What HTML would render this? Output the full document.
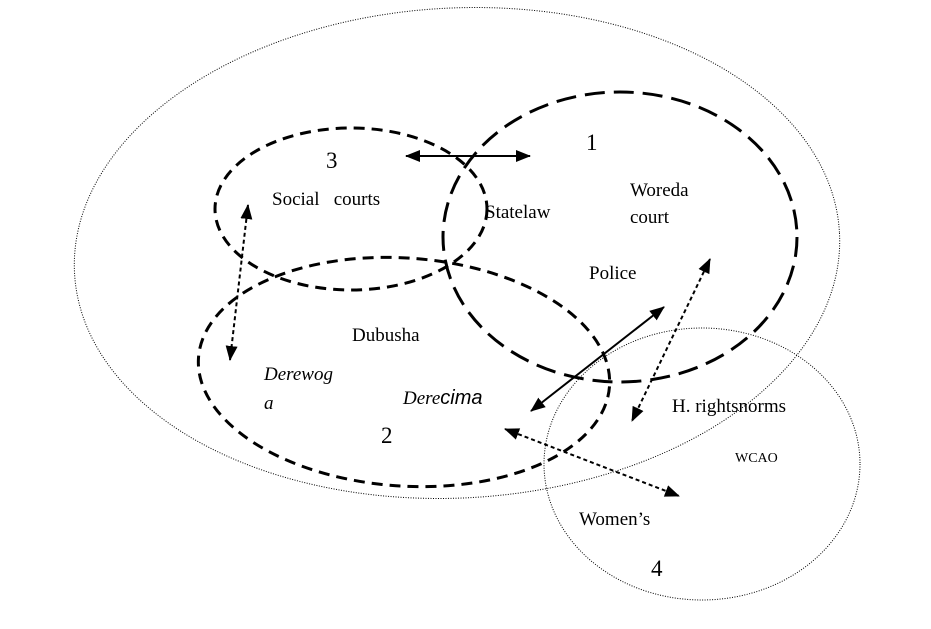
<!DOCTYPE html>
<html><head><meta charset="utf-8"><style>
body{margin:0;background:#fff;width:931px;height:624px;overflow:hidden}
text{font-family:"Liberation Serif",serif;fill:#000}
</style></head><body>
<svg width="931" height="624" viewBox="0 0 931 624" xmlns="http://www.w3.org/2000/svg">
<defs>
<marker id="a" markerWidth="16" markerHeight="14" refX="14" refY="7" orient="auto-start-reverse" markerUnits="userSpaceOnUse"><path d="M0,1 L15,7 L0,13 z" fill="#000"/></marker>
</defs>
<ellipse cx="457" cy="253" rx="383" ry="245" transform="rotate(-3 457 253)" fill="none" stroke="#000" stroke-width="1" stroke-dasharray="1 1.5"/>
<ellipse cx="702" cy="464" rx="158" ry="136" fill="none" stroke="#000" stroke-width="1" stroke-dasharray="1 1.5"/>
<ellipse cx="351" cy="209" rx="136" ry="81" fill="none" stroke="#000" stroke-width="3" stroke-dasharray="11 7"/>
<ellipse cx="620" cy="237" rx="177" ry="145" fill="none" stroke="#000" stroke-width="3" stroke-dasharray="20 9"/>
<ellipse cx="404" cy="372" rx="206" ry="114" transform="rotate(4 404 372)" fill="none" stroke="#000" stroke-width="3" stroke-dasharray="11 7"/>
<line x1="406" y1="156" x2="530" y2="156" stroke="#000" stroke-width="2" marker-start="url(#a)" marker-end="url(#a)"/>
<line x1="248" y1="205" x2="230" y2="360" stroke="#000" stroke-width="2" stroke-dasharray="4 3" marker-start="url(#a)" marker-end="url(#a)"/>
<line x1="664" y1="307" x2="531" y2="411" stroke="#000" stroke-width="2" marker-start="url(#a)" marker-end="url(#a)"/>
<line x1="710" y1="259" x2="632" y2="421" stroke="#000" stroke-width="2" stroke-dasharray="4 3" marker-start="url(#a)" marker-end="url(#a)"/>
<line x1="505" y1="429" x2="679" y2="496" stroke="#000" stroke-width="2" stroke-dasharray="4 3" marker-start="url(#a)" marker-end="url(#a)"/>
<text x="326" y="168" font-size="23">3</text>
<text x="272" y="205" font-size="19" xml:space="preserve">Social   courts</text>
<text x="485" y="218" font-size="19">Statelaw</text>
<text x="586" y="150" font-size="23">1</text>
<text x="630" y="196" font-size="19">Woreda</text>
<text x="630" y="223" font-size="19">court</text>
<text x="589" y="279" font-size="19">Police</text>
<text x="352" y="341" font-size="19">Dubusha</text>
<text x="264" y="380" font-size="19" font-style="italic">Derewog</text>
<text x="264" y="409" font-size="19" font-style="italic">a</text>
<text x="403" y="404" font-size="19" font-style="italic">Dere<tspan font-family="Liberation Sans,sans-serif" font-size="20">cima</tspan></text>
<text x="381" y="443" font-size="23">2</text>
<text x="672" y="412" font-size="19">H. rightsnorms</text>
<text x="735" y="462" font-size="14">WCAO</text>
<text x="579" y="525" font-size="19">Women’s</text>
<text x="651" y="576" font-size="23">4</text>
</svg>
</body></html>
